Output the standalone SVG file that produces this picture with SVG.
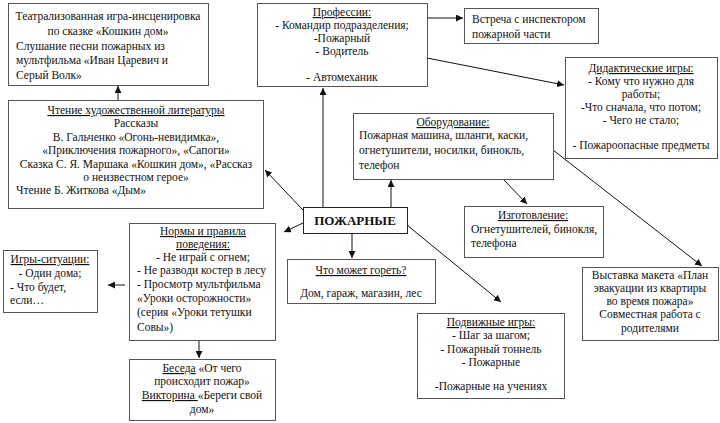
<svg xmlns="http://www.w3.org/2000/svg" width="720" height="423" viewBox="0 0 720 423">
<style>
.box{fill:#fff;stroke:#555;stroke-width:1}
text{font-family:"Liberation Serif","Times New Roman",serif;font-size:11.5px;fill:#111}
.c{text-anchor:middle}
.u{text-decoration:underline}
.b{font-weight:bold;font-size:13px}
.ln{stroke:#111;stroke-width:1;fill:none}
</style>
<defs>
<marker id="ah" viewBox="0 0 10 10" refX="10" refY="5" markerWidth="7" markerHeight="7" markerUnits="userSpaceOnUse" orient="auto">
<path d="M0,0 L10,5 L0,10 z" fill="#111"/>
</marker>
</defs>
<rect width="720" height="423" fill="#fff"/>
<g id="connectors">
<line class="ln" x1="118" y1="100" x2="118" y2="86" marker-end="url(#ah)"/>
<line class="ln" x1="323" y1="207" x2="323" y2="88" marker-end="url(#ah)"/>
<line class="ln" x1="391" y1="207" x2="391" y2="180" marker-end="url(#ah)"/>
<line class="ln" x1="427" y1="18" x2="463" y2="18" marker-end="url(#ah)"/>
<line class="ln" x1="427" y1="58" x2="564" y2="85" marker-end="url(#ah)"/>
<line class="ln" x1="503" y1="179" x2="527" y2="204" marker-end="url(#ah)"/>
<line class="ln" x1="553" y1="150" x2="702" y2="266" marker-end="url(#ah)"/>
<line class="ln" x1="303" y1="210" x2="265" y2="170" marker-end="url(#ah)"/>
<line class="ln" x1="303" y1="223" x2="284" y2="232" marker-end="url(#ah)"/>
<line class="ln" x1="125" y1="285" x2="108" y2="285" marker-end="url(#ah)"/>
<line class="ln" x1="199" y1="340" x2="199" y2="358" marker-end="url(#ah)"/>
<line class="ln" x1="352" y1="233" x2="352" y2="258" marker-end="url(#ah)"/>
<line class="ln" x1="407" y1="225" x2="501" y2="302" marker-end="url(#ah)"/>
</g>
<g id="teatr">
<rect class="box" x="8.5" y="3.5" width="200" height="82"/>
<text class="c" x="108" y="20">Театрализованная игра-инсценировка</text>
<text class="c" x="108" y="35">по сказке «Кошкин дом»</text>
<text x="16" y="50">Слушание песни пожарных из</text>
<text x="16" y="64">мультфильма «Иван Царевич и</text>
<text x="16" y="79">Серый Волк»</text>
</g>
<g id="professii">
<rect class="box" x="257.5" y="3.5" width="170" height="83"/>
<text class="c u" x="342" y="16">Профессии:</text>
<text class="c" x="342" y="29">- Командир подразделения;</text>
<text class="c" x="342" y="42">-Пожарный</text>
<text class="c" x="342" y="55">- Водитель</text>
<text class="c" x="342" y="81">- Автомеханик</text>
</g>
<g id="vstrecha">
<rect class="box" x="464.5" y="8.5" width="134" height="35"/>
<text x="472" y="23">Встреча с инспектором</text>
<text x="472" y="38">пожарной части</text>
</g>
<g id="didakt">
<rect class="box" x="565.5" y="57.5" width="152" height="101"/>
<text class="c u" x="641" y="72">Дидактические игры:</text>
<text class="c" x="641" y="85">- Кому что нужно для</text>
<text class="c" x="641" y="98">работы;</text>
<text class="c" x="641" y="111">-Что сначала, что потом;</text>
<text class="c" x="641" y="124">- Чего не стало;</text>
<text class="c" x="641" y="149">- Пожароопасные предметы</text>
</g>
<g id="literatura">
<rect class="box" x="8.5" y="100.5" width="255" height="108"/>
<text class="c u" x="136" y="114">Чтение художественной литературы</text>
<text class="c" x="136" y="127">Рассказы</text>
<text class="c" x="136" y="141">В. Гальченко «Огонь-невидимка»,</text>
<text class="c" x="136" y="154">«Приключения пожарного», «Сапоги»</text>
<text class="c" x="136" y="168">Сказка С. Я. Маршака «Кошкин дом», «Рассказ</text>
<text class="c" x="136" y="181">о неизвестном герое»</text>
<text x="16" y="194">Чтение Б. Житкова «Дым»</text>
</g>
<g id="oborudovanie">
<rect class="box" x="353.5" y="113.5" width="200" height="66"/>
<text class="c u" x="453" y="126">Оборудование:</text>
<text x="359" y="139">Пожарная машина, шланги, каски,</text>
<text x="359" y="154">огнетушители, носилки, бинокль,</text>
<text x="359" y="169">телефон</text>
</g>
<g id="izgotovlenie">
<rect class="box" x="464.5" y="206.5" width="139" height="51"/>
<text class="c u" x="533" y="219">Изготовление:</text>
<text x="471" y="233">Огнетушителей, бинокля,</text>
<text x="471" y="247">телефона</text>
</g>
<g id="pozharnye">
<rect class="box" x="303.5" y="207.5" width="104" height="26" style="stroke:#222"/>
<text class="c b" x="355" y="225">ПОЖАРНЫЕ</text>
</g>
<g id="gorit">
<rect class="box" x="287.5" y="259.5" width="148" height="44"/>
<text class="c u" x="361" y="274">Что может гореть?</text>
<text class="c" x="361" y="297">Дом, гараж, магазин, лес</text>
</g>
<g id="normy">
<rect class="box" x="129.5" y="223.5" width="146" height="117"/>
<text class="c u" x="203" y="235">Нормы и правила</text>
<text class="c u" x="203" y="248">поведения:</text>
<text class="c" x="203" y="261">- Не играй с огнем;</text>
<text x="137" y="274">- Не разводи костер в лесу</text>
<text x="137" y="288">- Просмотр мультфильма</text>
<text x="137" y="302">«Уроки осторожности»</text>
<text x="137" y="316">(серия «Уроки тетушки</text>
<text x="137" y="331">Совы»)</text>
</g>
<g id="situatsii">
<rect class="box" x="3.5" y="250.5" width="94" height="62"/>
<text class="c u" x="50" y="263">Игры-ситуации:</text>
<text class="c" x="50" y="277">- Один дома;</text>
<text x="10" y="291">- Что будет,</text>
<text x="10" y="304">если…</text>
</g>
<g id="beseda">
<rect class="box" x="129.5" y="359.5" width="146" height="61"/>
<text class="c" x="202" y="372"><tspan class="u">Беседа</tspan> «От чего</text>
<text class="c" x="202" y="385">происходит пожар»</text>
<text class="c" x="202" y="399"><tspan class="u">Викторина </tspan>«Береги свой</text>
<text class="c" x="202" y="413">дом»</text>
</g>
<g id="vystavka">
<rect class="box" x="582.5" y="267.5" width="136" height="73"/>
<text class="c" x="650" y="279">Выставка макета «План</text>
<text class="c" x="650" y="292">эвакуации из квартиры</text>
<text class="c" x="650" y="305">во время пожара»</text>
<text class="c" x="650" y="318">Совместная работа с</text>
<text class="c" x="650" y="332">родителями</text>
</g>
<g id="podvizhnye">
<rect class="box" x="417.5" y="313.5" width="147" height="85"/>
<text class="c u" x="491" y="326">Подвижные игры:</text>
<text class="c" x="491" y="339">- Шаг за шагом;</text>
<text class="c" x="491" y="353">- Пожарный тоннель</text>
<text class="c" x="491" y="366">- Пожарные</text>
<text class="c" x="491" y="390">-Пожарные на учениях</text>
</g>
</svg>
